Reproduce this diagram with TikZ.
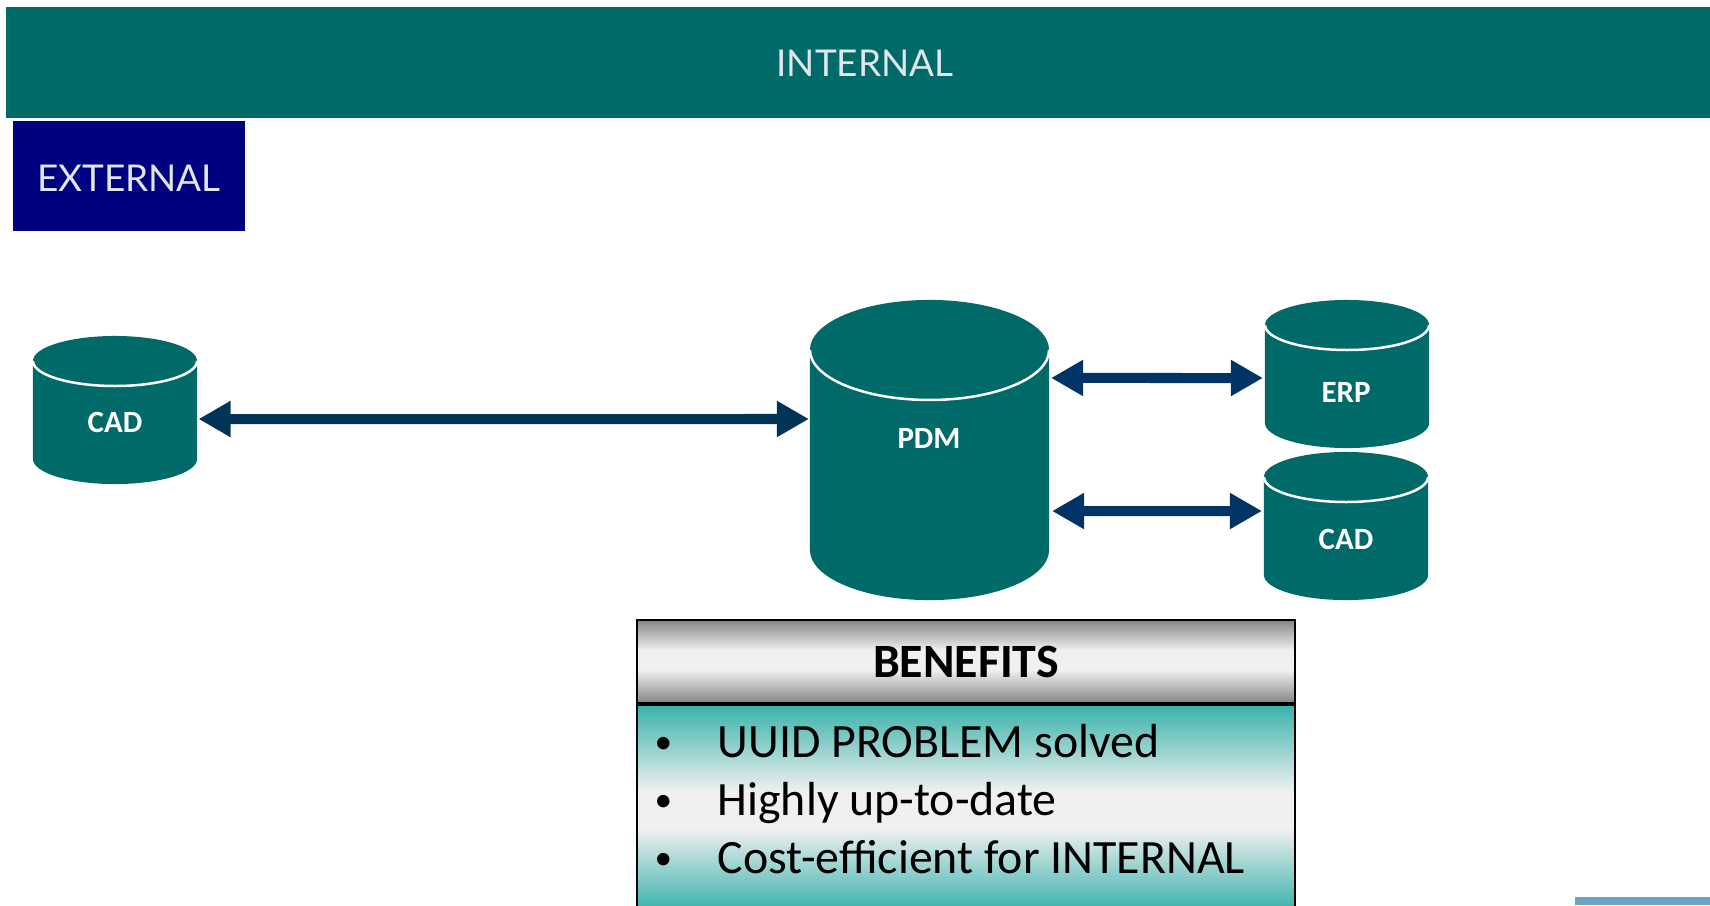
\documentclass[tikz,border=0pt]{standalone}
\usepackage{fontspec}
\setmainfont{Carlito}
\newfontfamily\titlefont{Lato}
\usetikzlibrary{arrows.meta}
\definecolor{dbteal}{HTML}{006A68}
\definecolor{extnavy}{HTML}{000080}
\definecolor{titletext}{HTML}{E0E6EA}
\definecolor{arrowblue}{HTML}{003366}
\definecolor{arrowdark}{HTML}{003355}
\definecolor{footblue}{HTML}{6AA5C5}
\pgfdeclareverticalshading{headshade}{100bp}{rgb(0bp)=(.52,.52,.52); rgb(25bp)=(.52,.52,.52); rgb(45bp)=(.94,.94,.94); rgb(57bp)=(.94,.94,.94); rgb(75bp)=(.52,.52,.52); rgb(100bp)=(.52,.52,.52)}
\pgfdeclareverticalshading{bodyshade}{100bp}{rgb(0bp)=(.22,.70,.67); rgb(25bp)=(.22,.70,.67); rgb(45bp)=(.94,.94,.94); rgb(54bp)=(.94,.94,.94); rgb(75bp)=(.22,.70,.67); rgb(100bp)=(.22,.70,.67)}
\tikzset{
  db/.style n args={2}{inner sep=0,outer sep=0,minimum width=#1,minimum height=#2},
  dblabel/.style={text=white,font=\fontsize{8.8}{10}\selectfont\bfseries,inner sep=0},
  titlebar/.style={inner sep=0,outer sep=0},
  titletext/.style={inner sep=0,text=titletext,font=\titlefont\fontsize{10.5}{12}\selectfont},
  link/.style={line width=0.1cm,{Triangle[length=0.32cm,width=0.34cm]}-{Triangle[length=0.32cm,width=0.34cm]},arrowblue},
  benefit/.style={anchor=base west,inner sep=0,font=\fontsize{13.6}{15}\selectfont},
}
\begin{document}
\begin{tikzpicture}[x=0.01cm,y=-0.01cm]
  \path[use as bounding box,clip] (0,0) rectangle (1710,905);
  %% Top bars.
  \node[titlebar,fill=dbteal,minimum width=17.04cm,minimum height=1.11cm,
    label={[titletext,xshift=0.07cm,yshift=-0.01cm]center:INTERNAL}] (INT) at (858,62.5) {};
  \node[titlebar,fill=extnavy,minimum width=2.32cm,minimum height=1.1cm,
    label={[titletext,yshift=-0.02cm]center:EXTERNAL}] (EXT) at (129,176) {};
  %% Databases.
  \node[db={1.64cm}{1.48cm}] (CADL) at (115,410) {};
  \node[db={2.39cm}{3cm}] (PDM) at (929.5,450) {};
  \node[db={1.64cm}{1.48cm}] (ERP) at (1347,374) {};
  \node[db={1.64cm}{1.48cm}] (CADR) at (1346,526) {};
  %% Body and lid line of each.
  \foreach \n/\rx/\ry in {CADL/0.82/0.25,PDM/1.195/0.5,ERP/0.82/0.25,CADR/0.82/0.25}{
    \fill[dbteal] ([yshift=-\ry cm]\n.north west) arc[start angle=180,end angle=0,x radius=\rx cm,y radius=\ry cm]
      -- ([yshift=\ry cm]\n.south east) arc[start angle=0,end angle=-180,x radius=\rx cm,y radius=\ry cm] -- cycle;
    \draw[white,line width=0.025cm] ([yshift=-\ry cm]\n.north west) arc[start angle=180,end angle=360,x radius=\rx cm,y radius=\ry cm];
  }
  \node[dblabel] (CADLt) at (115,422) {CAD};
  \node[dblabel] (PDMt) at (929,438) {PDM};
  \node[dblabel] (ERPt) at (1346,392) {ERP};
  \node[dblabel] (CADRt) at (1346,539) {CAD};
  %% Arrows.
  \draw[link,arrowdark] ([xshift=0.015cm,yshift=-0.09cm]CADL.east) -- ([xshift=-0.01cm,yshift=0.31cm]PDM.west);
  \draw[link] ([xshift=0.02cm,yshift=0.72cm]PDM.east) -- ([xshift=-0.02cm,yshift=-0.04cm]ERP.west);
  \draw[link] ([xshift=0.03cm,yshift=-0.61cm]PDM.east) -- ([xshift=-0.02cm,yshift=0.15cm]CADR.west);
  %% Benefits table.
  \node[draw=black,line width=0.02cm,shading=headshade,
    minimum width=6.58cm,minimum height=0.83cm,inner sep=0,font=\fontsize{13.6}{15}\selectfont\bfseries] (HEAD) at (966,661.5) {BENEFITS};
  \node[draw=black,line width=0.02cm,shading=bodyshade,
    minimum width=6.58cm,minimum height=2.05cm,inner sep=0,anchor=north] (BODY) at (HEAD.south) {};
  \foreach \i/\y/\t in {A/757/UUID PROBLEM solved,B/815/Highly up-to-date,C/873/Cost-efficient for INTERNAL}{
    \node[benefit] (bullet\i) at (654,{\y-4}) {\fontsize{10}{12}\selectfont\textbullet};
    \node[benefit] (line\i) at (717,\y) {\t};
  }
  %% Corner bar.
  \node[fill=footblue,inner sep=0,outer sep=0,minimum width=1.35cm,minimum height=0.08cm] (FOOT) at (1642.5,901) {};
\end{tikzpicture}
\end{document}
